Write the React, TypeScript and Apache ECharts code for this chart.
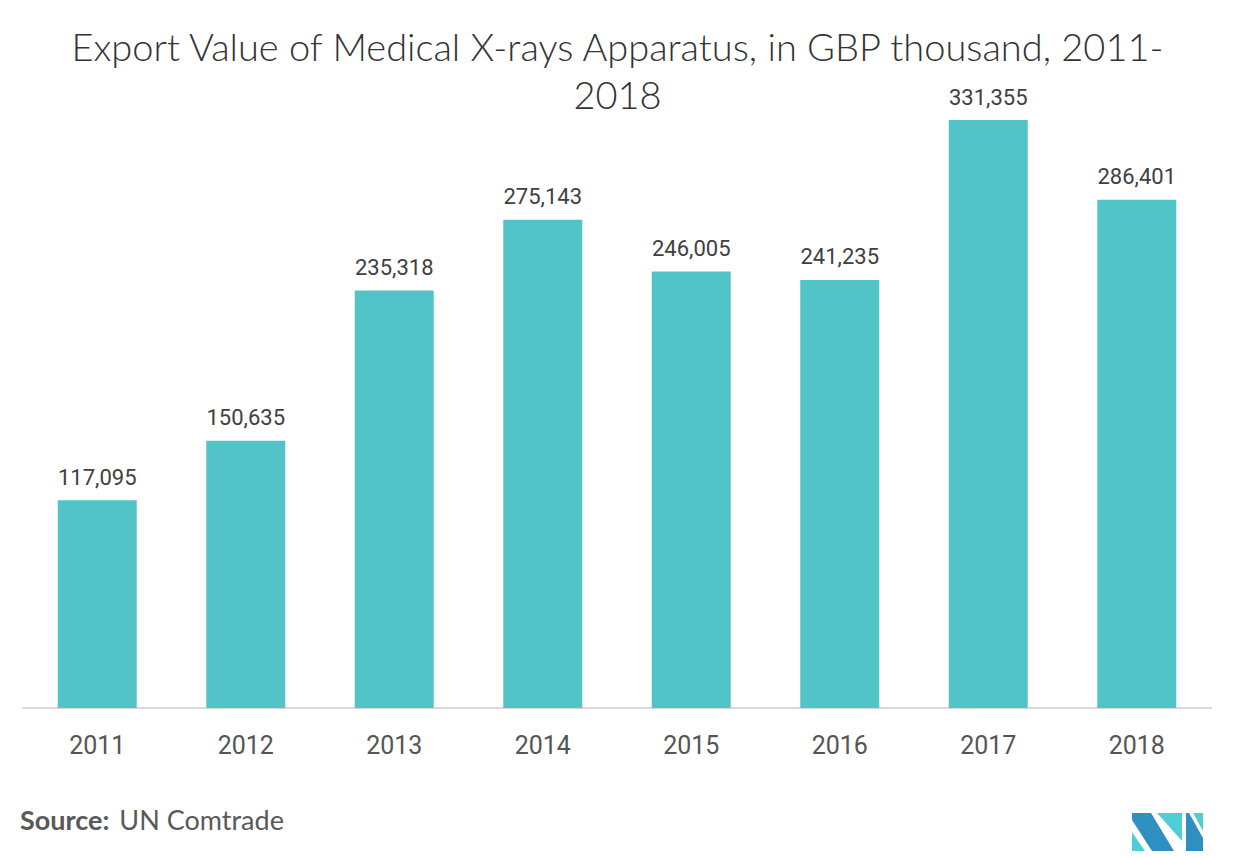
import React, { useEffect, useRef } from "react";
import * as echarts from "echarts";

const categories = ["2011", "2012", "2013", "2014", "2015", "2016", "2017", "2018"];
const exportValues = [117095, 150635, 235318, 275143, 246005, 241235, 331355, 286401];

const TITLE = "Export Value of Medical X-rays Apparatus, in GBP thousand, 2011-\n2018";

export default function App() {
  const ref = useRef<HTMLDivElement>(null);
  useEffect(() => {
    if (!ref.current) return;
    const chart = echarts.init(ref.current, null, { renderer: "svg" });
    const dark = "#2F8FC1";
    const light = "#4FCFD5";
    chart.setOption({
      animation: false,
      backgroundColor: "#ffffff",
      title: {
        text: TITLE,
        left: "center",
        top: 17,
        textStyle: {
          fontFamily: "Lato",
          fontWeight: 300,
          fontSize: 38,
          color: "#333333",
          lineHeight: 48,
        },
      },
      grid: { left: 23, right: 24, top: 87, bottom: 149, containLabel: false },
      xAxis: {
        type: "category",
        data: categories,
        axisLine: { lineStyle: { color: "#d9d9d9", width: 2 } },
        axisTick: { show: false },
        axisLabel: {
          fontFamily: "Roboto",
          fontSize: 25,
          color: "#555555",
          margin: 25,
        },
      },
      yAxis: {
        type: "value",
        min: 0,
        max: 350000,
        show: false,
        splitLine: { show: false },
      },
      series: [
        {
          type: "bar",
          data: exportValues,
          barWidth: 79,
          itemStyle: { color: "#52C4C7" },
          label: {
            show: true,
            position: "top",
            distance: 12,
            fontFamily: "Roboto",
            fontSize: 22,
            color: "#404040",
            formatter: (p: any) => Number(p.value).toLocaleString("en-US"),
          },
        },
      ],
      graphic: [
        {
          type: "text",
          left: 20,
          top: 806,
          style: {
            text: "{b|Source:}{s| }{n|UN Comtrade}",
            rich: {
              b: { fontFamily: "Lato", fontWeight: "bold", fontSize: 27, fill: "#595959" },
              s: { fontFamily: "Lato", fontSize: 27, width: 10 },
              n: { fontFamily: "Lato", fontWeight: 400, fontSize: 27, fill: "#595959" },
            },
          },
        },
        { type: "polygon", shape: { points: [[1132, 832], [1132, 851], [1145, 851]] }, style: { fill: light } },
        { type: "polygon", shape: { points: [[1132, 813], [1151, 813], [1174, 851], [1152, 851], [1132, 820]] }, style: { fill: dark } },
        { type: "polygon", shape: { points: [[1157, 813], [1182, 813], [1182, 841]] }, style: { fill: light } },
        { type: "polygon", shape: { points: [[1186, 813], [1189, 813], [1203, 838], [1203, 851], [1186, 851]] }, style: { fill: dark } },
        { type: "polygon", shape: { points: [[1193, 813], [1203, 813], [1203, 831]] }, style: { fill: light } },
      ],
    });
    return () => chart.dispose();
  }, []);
  return (
    <div
      ref={ref}
      style={{ position: "fixed", left: 0, top: 0, width: 1235, height: 857 }}
    />
  );
}
